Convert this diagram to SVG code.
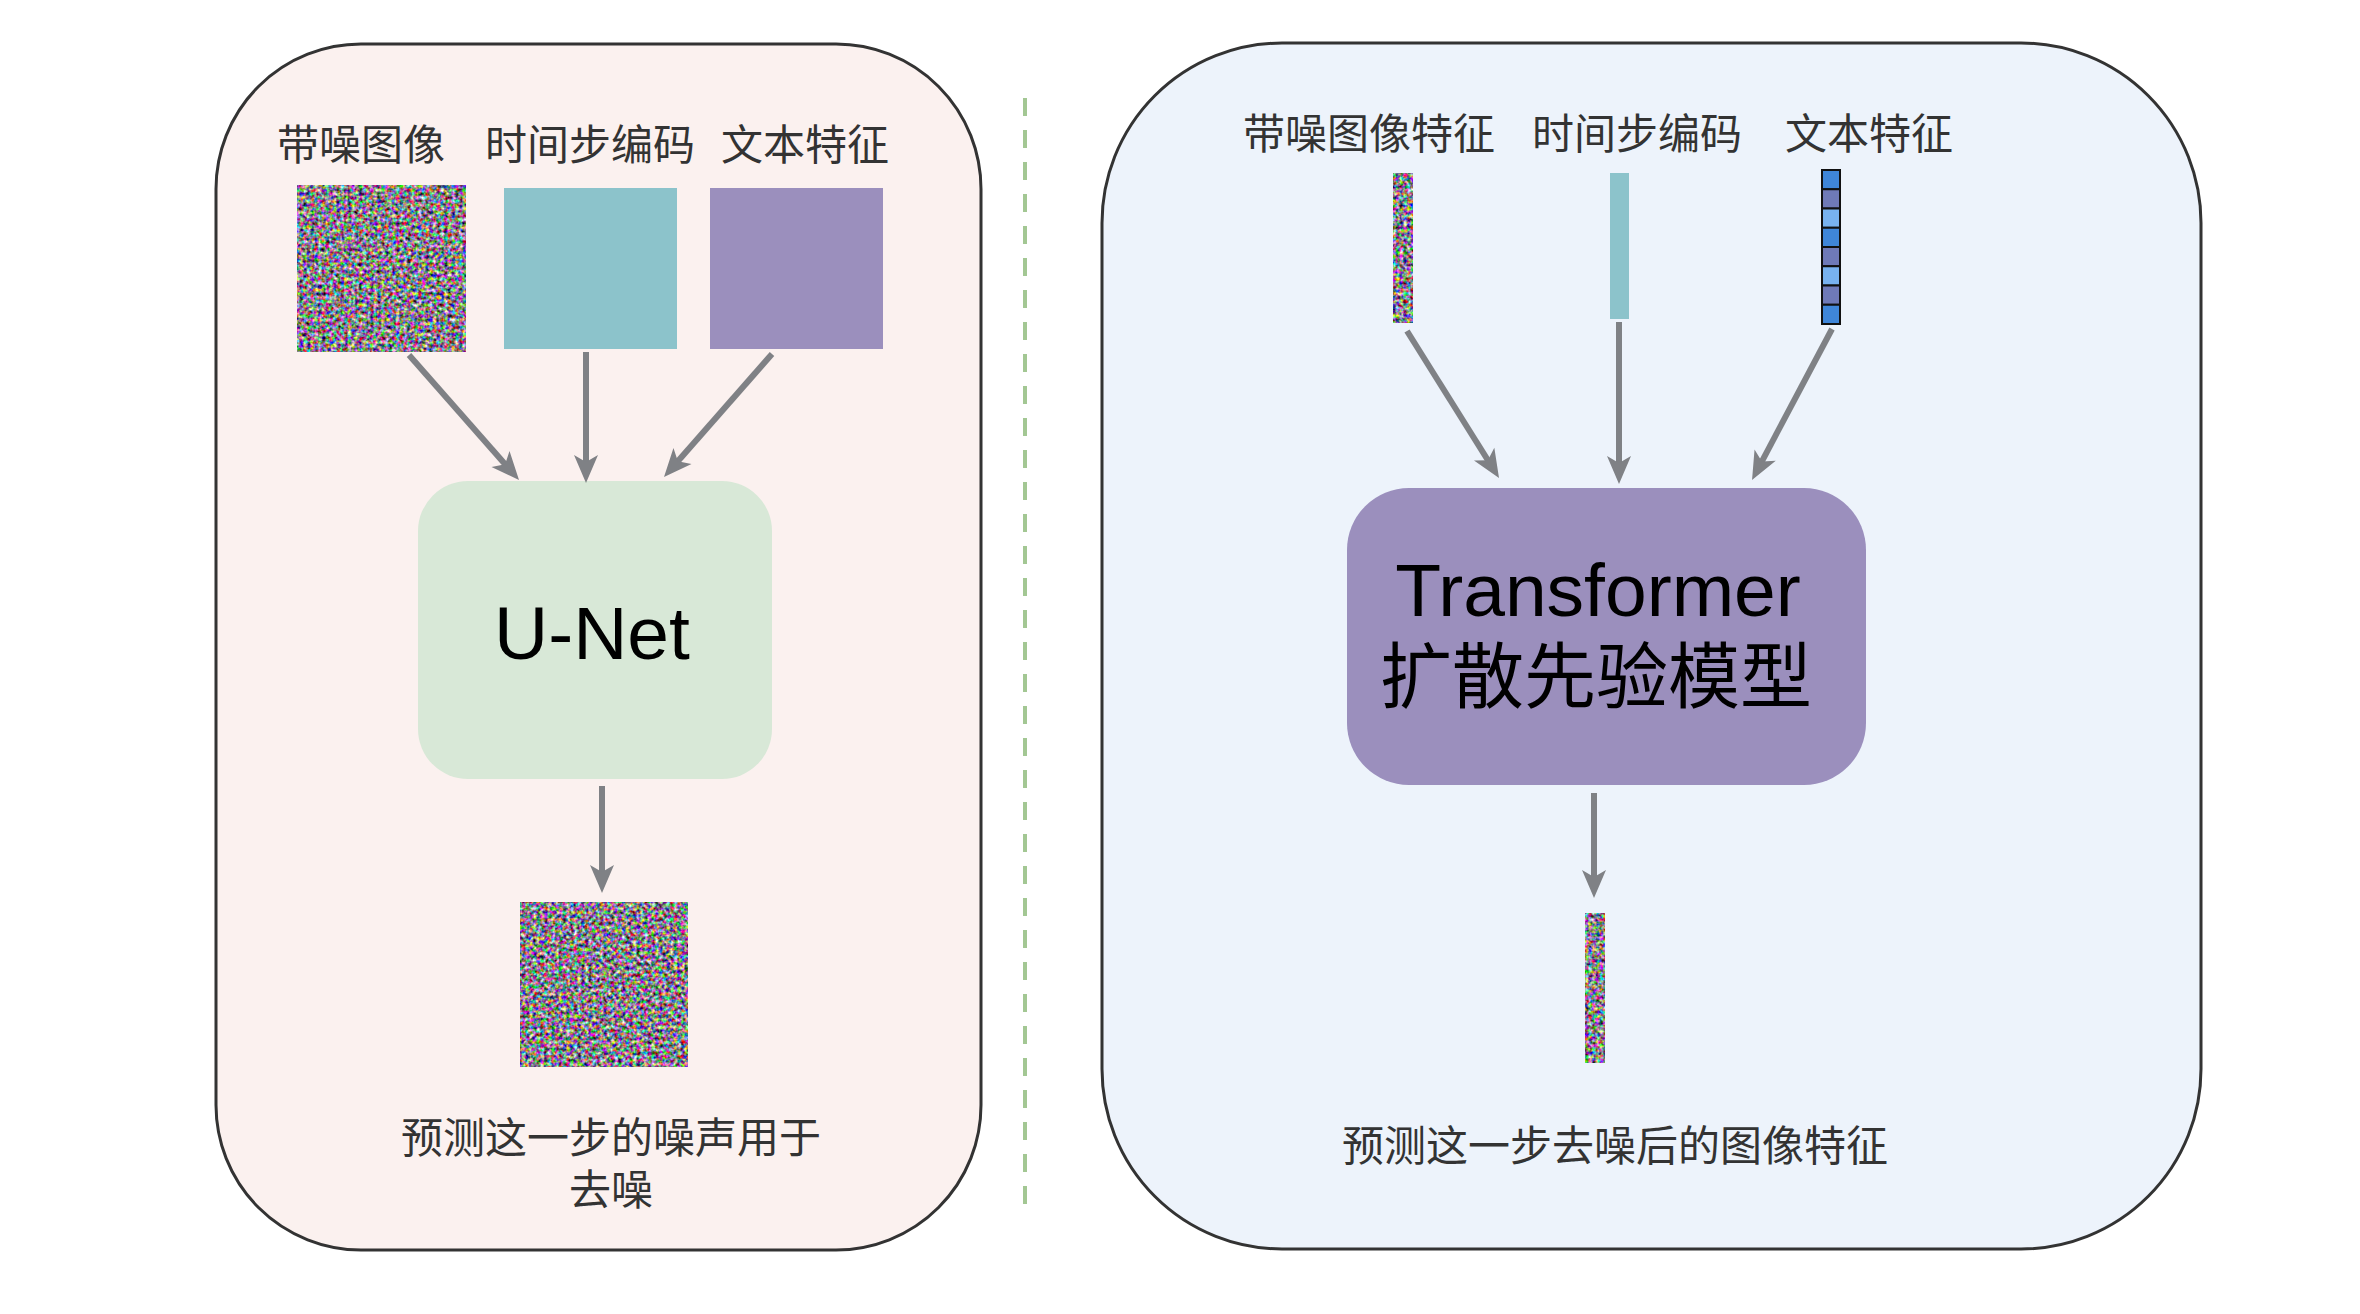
<svg xmlns="http://www.w3.org/2000/svg" width="2360" height="1314" viewBox="0 0 2360 1314">
  <style>
    .panel { stroke: #333333; stroke-width: 3; }
    .lbl { font-family: "Liberation Sans", "Noto Sans CJK SC", sans-serif; font-size: 42px; fill: #333333; text-anchor: middle; }
    .big { font-family: "Liberation Sans", Arial, sans-serif; font-size: 75px; fill: #000000; text-anchor: middle; }
    .bigcjk { font-family: "Liberation Sans", "Noto Sans CJK SC", sans-serif; font-size: 72px; fill: #000000; text-anchor: middle; }
    .conn { stroke: #7f8185; stroke-width: 6; fill: none; marker-end: url(#arrow); }
    .cell { stroke: #111111; stroke-width: 2; }
  </style>
  <defs>
    <marker id="arrow" viewBox="0 0 30 26" refX="9" refY="13" markerWidth="30" markerHeight="26" markerUnits="userSpaceOnUse" orient="auto">
      <path d="M29,13 L1,1 L8,13 L1,25 Z" fill="#7f8185"/>
    </marker>
    <filter id="noise" x="0" y="0" width="1" height="1" filterUnits="objectBoundingBox" color-interpolation-filters="sRGB">
      <feTurbulence type="fractalNoise" baseFrequency="0.27" numOctaves="2" seed="3" result="t"/>
      <feColorMatrix in="t" type="matrix" values="2.0 0 0 0 -0.47  0 2.0 0 0 -0.5  0 0 2.0 0 -0.46  0 0 0 0 1"/>
    </filter>
    <filter id="noise2" x="0" y="0" width="1" height="1" filterUnits="objectBoundingBox" color-interpolation-filters="sRGB">
      <feTurbulence type="fractalNoise" baseFrequency="0.27" numOctaves="2" seed="11" result="t"/>
      <feColorMatrix in="t" type="matrix" values="2.0 0 0 0 -0.47  0 2.0 0 0 -0.5  0 0 2.0 0 -0.46  0 0 0 0 1"/>
    </filter>
  </defs>

  <rect width="2360" height="1314" fill="#ffffff"/>

  <g id="left-panel">
    <rect class="panel" x="216" y="44" width="765" height="1206" rx="145" ry="145" fill="#fbf1ef"/>
  </g>
  <g id="right-panel">
    <rect class="panel" x="1102" y="43" width="1099" height="1206" rx="180" ry="180" fill="#edf3fb"/>
  </g>

  <g id="divider">
    <line x1="1025" y1="98" x2="1025" y2="1204" stroke="#a3c793" stroke-width="4" stroke-dasharray="18 14"/>
  </g>

  <!-- Left side -->
  <g id="label-noisy-image"><text class="lbl" x="361" y="160">带噪图像</text></g>
  <g id="label-timestep"><text class="lbl" x="590" y="160">时间步编码</text></g>
  <g id="label-text-feature"><text class="lbl" x="805" y="160">文本特征</text></g>

  <g id="noisy-image"><rect x="297" y="185" width="169" height="167" fill="#808080" filter="url(#noise)"/></g>
  <g id="timestep-block"><rect x="504" y="188" width="173" height="161" fill="#8cc3cb"/></g>
  <g id="text-block"><rect x="710" y="188" width="173" height="161" fill="#9b8fbd"/></g>

  <g id="unet">
    <rect x="418" y="481" width="354" height="298" rx="50" ry="50" fill="#d8e8d7"/>
    <text class="big" x="592" y="659">U-Net</text>
  </g>

  <g id="noise-output"><rect x="520" y="902" width="168" height="165" fill="#808080" filter="url(#noise2)"/></g>
  <g id="label-left-output">
    <text class="lbl"><tspan x="611" y="1153">预测这一步的噪声用于</tspan><tspan x="611" y="1205">去噪</tspan></text>
  </g>

  <!-- Right side -->
  <g id="label-noisy-feature"><text class="lbl" x="1369" y="149">带噪图像特征</text></g>
  <g id="label-timestep-r"><text class="lbl" x="1637" y="149">时间步编码</text></g>
  <g id="label-text-feature-r"><text class="lbl" x="1869" y="149">文本特征</text></g>

  <g id="noisy-feature-bar"><rect x="1393" y="173" width="20" height="150" fill="#808080" filter="url(#noise2)"/></g>
  <g id="timestep-bar"><rect x="1610" y="173" width="19" height="146" fill="#8cc3cb"/></g>
  <g id="text-token-bar">
    <rect class="cell" x="1822" y="170" width="18" height="19.25" fill="#3f86d9"/>
    <rect class="cell" x="1822" y="189.25" width="18" height="19.25" fill="#6f7ab8"/>
    <rect class="cell" x="1822" y="208.5" width="18" height="19.25" fill="#78b2ef"/>
    <rect class="cell" x="1822" y="227.75" width="18" height="19.25" fill="#3f86d9"/>
    <rect class="cell" x="1822" y="247" width="18" height="19.25" fill="#6f7ab8"/>
    <rect class="cell" x="1822" y="266.25" width="18" height="19.25" fill="#78b2ef"/>
    <rect class="cell" x="1822" y="285.5" width="18" height="19.25" fill="#6f7ab8"/>
    <rect class="cell" x="1822" y="304.75" width="18" height="19.25" fill="#3f86d9"/>
  </g>

  <g id="transformer">
    <rect x="1347" y="488" width="519" height="297" rx="62" ry="62" fill="#9b8fbd"/>
    <text class="big" x="1598" y="616">Transformer</text>
    <text class="bigcjk" x="1596" y="702">扩散先验模型</text>
  </g>

  <g id="feature-output"><rect x="1585" y="913" width="20" height="150" fill="#808080" filter="url(#noise)"/></g>
  <g id="label-right-output"><text class="lbl" x="1615" y="1161">预测这一步去噪后的图像特征</text></g>

  <g id="connectors">
    <line class="conn" x1="409" y1="355" x2="505.8" y2="465"/>
    <line class="conn" x1="586" y1="352" x2="586" y2="463"/>
    <line class="conn" x1="772" y1="354" x2="677.2" y2="462"/>
    <line class="conn" x1="602" y1="786" x2="602" y2="873"/>
    <line class="conn" x1="1407" y1="331" x2="1488.4" y2="461"/>
    <line class="conn" x1="1619" y1="322" x2="1619" y2="464"/>
    <line class="conn" x1="1832" y1="329" x2="1761.4" y2="462.3"/>
    <line class="conn" x1="1594" y1="793" x2="1594" y2="878"/>
  </g>
</svg>
